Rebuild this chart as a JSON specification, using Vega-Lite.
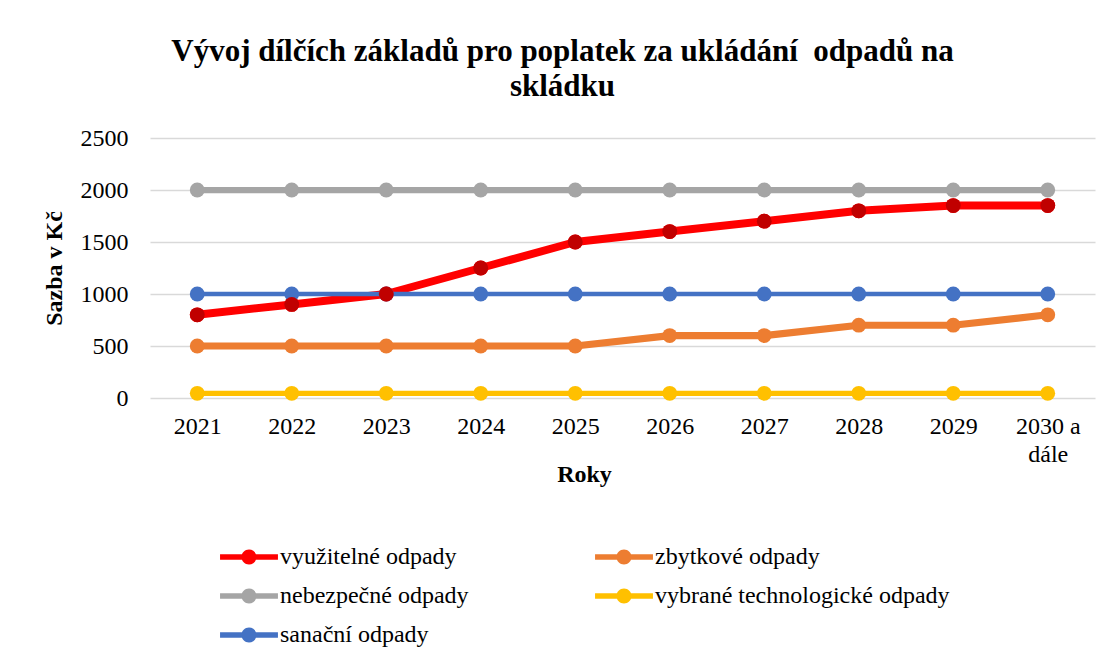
{
  "$schema": "https://vega.github.io/schema/vega-lite/v6.json",
  "width": 945,
  "height": 260,
  "autosize": "none",
  "padding": {"left": 150, "top": 138, "right": 19, "bottom": 273},
  "background": "white",
  "config": {
    "font": "Liberation Serif",
    "view": {"stroke": null}
  },
  "title": {
    "text": ["Vývoj dílčích základů pro poplatek za ukládání\u00a0 odpadů na", "skládku"],
    "font": "Liberation Serif",
    "fontSize": 31,
    "fontWeight": "bold",
    "color": "black",
    "anchor": "middle",
    "dx": -60,
    "offset": 23,
    "lineHeight": 35
  },
  "data": {
    "values": [
      {"rok": "2021", "serie": "využitelné odpady", "sazba": 800},
      {"rok": "2022", "serie": "využitelné odpady", "sazba": 900},
      {"rok": "2023", "serie": "využitelné odpady", "sazba": 1000},
      {"rok": "2024", "serie": "využitelné odpady", "sazba": 1250},
      {"rok": "2025", "serie": "využitelné odpady", "sazba": 1500},
      {"rok": "2026", "serie": "využitelné odpady", "sazba": 1600},
      {"rok": "2027", "serie": "využitelné odpady", "sazba": 1700},
      {"rok": "2028", "serie": "využitelné odpady", "sazba": 1800},
      {"rok": "2029", "serie": "využitelné odpady", "sazba": 1850},
      {"rok": "2030 a dále", "serie": "využitelné odpady", "sazba": 1850},
      {"rok": "2021", "serie": "zbytkové odpady", "sazba": 500},
      {"rok": "2022", "serie": "zbytkové odpady", "sazba": 500},
      {"rok": "2023", "serie": "zbytkové odpady", "sazba": 500},
      {"rok": "2024", "serie": "zbytkové odpady", "sazba": 500},
      {"rok": "2025", "serie": "zbytkové odpady", "sazba": 500},
      {"rok": "2026", "serie": "zbytkové odpady", "sazba": 600},
      {"rok": "2027", "serie": "zbytkové odpady", "sazba": 600},
      {"rok": "2028", "serie": "zbytkové odpady", "sazba": 700},
      {"rok": "2029", "serie": "zbytkové odpady", "sazba": 700},
      {"rok": "2030 a dále", "serie": "zbytkové odpady", "sazba": 800},
      {"rok": "2021", "serie": "nebezpečné odpady", "sazba": 2000},
      {"rok": "2022", "serie": "nebezpečné odpady", "sazba": 2000},
      {"rok": "2023", "serie": "nebezpečné odpady", "sazba": 2000},
      {"rok": "2024", "serie": "nebezpečné odpady", "sazba": 2000},
      {"rok": "2025", "serie": "nebezpečné odpady", "sazba": 2000},
      {"rok": "2026", "serie": "nebezpečné odpady", "sazba": 2000},
      {"rok": "2027", "serie": "nebezpečné odpady", "sazba": 2000},
      {"rok": "2028", "serie": "nebezpečné odpady", "sazba": 2000},
      {"rok": "2029", "serie": "nebezpečné odpady", "sazba": 2000},
      {"rok": "2030 a dále", "serie": "nebezpečné odpady", "sazba": 2000},
      {"rok": "2021", "serie": "vybrané technologické odpady", "sazba": 45},
      {"rok": "2022", "serie": "vybrané technologické odpady", "sazba": 45},
      {"rok": "2023", "serie": "vybrané technologické odpady", "sazba": 45},
      {"rok": "2024", "serie": "vybrané technologické odpady", "sazba": 45},
      {"rok": "2025", "serie": "vybrané technologické odpady", "sazba": 45},
      {"rok": "2026", "serie": "vybrané technologické odpady", "sazba": 45},
      {"rok": "2027", "serie": "vybrané technologické odpady", "sazba": 45},
      {"rok": "2028", "serie": "vybrané technologické odpady", "sazba": 45},
      {"rok": "2029", "serie": "vybrané technologické odpady", "sazba": 45},
      {"rok": "2030 a dále", "serie": "vybrané technologické odpady", "sazba": 45},
      {"rok": "2021", "serie": "sanační odpady", "sazba": 1000},
      {"rok": "2022", "serie": "sanační odpady", "sazba": 1000},
      {"rok": "2023", "serie": "sanační odpady", "sazba": 1000},
      {"rok": "2024", "serie": "sanační odpady", "sazba": 1000},
      {"rok": "2025", "serie": "sanační odpady", "sazba": 1000},
      {"rok": "2026", "serie": "sanační odpady", "sazba": 1000},
      {"rok": "2027", "serie": "sanační odpady", "sazba": 1000},
      {"rok": "2028", "serie": "sanační odpady", "sazba": 1000},
      {"rok": "2029", "serie": "sanační odpady", "sazba": 1000},
      {"rok": "2030 a dále", "serie": "sanační odpady", "sazba": 1000}
    ]
  },
  "encoding": {
    "x": {
      "field": "rok",
      "type": "ordinal",
      "sort": null,
      "scale": {"type": "point", "padding": 0.5},
      "axis": {
        "title": "Roky",
        "titleFont": "Liberation Serif",
        "titleFontSize": 24,
        "titleFontWeight": "bold",
        "titleColor": "black",
        "titleX": 434,
        "titleY": 76,
        "titleBaseline": "middle",
        "labelFont": "Liberation Serif",
        "labelFontSize": 24,
        "labelColor": "black",
        "labelAngle": 0,
        "labelPadding": 16,
        "labelLineHeight": 28,
        "labelExpr": "datum.label == '2030 a dále' ? ['2030 a', 'dále'] : datum.label",
        "domain": false,
        "ticks": false,
        "grid": false
      }
    },
    "y": {
      "field": "sazba",
      "type": "quantitative",
      "scale": {"domain": [0, 2500]},
      "axis": {
        "title": "Sazba v Kč",
        "titleFont": "Liberation Serif",
        "titleFontSize": 24,
        "titleFontWeight": "bold",
        "titleColor": "black",
        "titlePadding": 14,
        "labelFont": "Liberation Serif",
        "labelFontSize": 24,
        "labelColor": "black",
        "labelPadding": 22,
        "values": [0, 500, 1000, 1500, 2000, 2500],
        "format": "d",
        "domain": false,
        "ticks": false,
        "grid": true,
        "gridColor": "#d9d9d9",
        "gridWidth": 1.5
      }
    }
  },
  "layer": [
    {
      "mark": {"type": "line", "strokeCap": "round", "strokeJoin": "round"},
      "encoding": {
        "color": {
          "field": "serie",
          "type": "nominal",
          "sort": null,
          "scale": {
            "domain": ["využitelné odpady", "zbytkové odpady", "nebezpečné odpady", "vybrané technologické odpady", "sanační odpady"],
            "range": ["#FF0000", "#ED7D31", "#A5A5A5", "#FFC000", "#4472C4"]
          },
          "legend": null
        },
        "strokeWidth": {
          "field": "serie",
          "type": "nominal",
          "scale": {
            "domain": ["využitelné odpady", "zbytkové odpady", "nebezpečné odpady", "vybrané technologické odpady", "sanační odpady"],
            "range": [8, 4.5, 4.5, 4.5, 4.5]
          },
          "legend": null
        }
      }
    },
    {
      "mark": {"type": "point", "filled": true, "opacity": 1, "size": 220},
      "encoding": {
        "color": {
          "field": "serie",
          "type": "nominal",
          "sort": null,
          "scale": {
            "domain": ["využitelné odpady", "zbytkové odpady", "nebezpečné odpady", "vybrané technologické odpady", "sanační odpady"],
            "range": ["#FF0000", "#ED7D31", "#A5A5A5", "#FFC000", "#4472C4"]
          },
          "legend": {
            "title": null,
            "orient": "none",
            "direction": "horizontal",
            "legendX": 84,
            "legendY": 404,
            "columns": 2,
            "columnPadding": 126,
            "rowPadding": 12,
            "symbolType": "M-1.93,-0.18H-0.45V0.18H-1.93Z M0.45,-0.18H1.93V0.18H0.45Z M0.5,0A0.5,0.5,0,1,1,-0.5,0A0.5,0.5,0,1,1,0.5,0Z",
            "symbolSize": 900,
            "symbolStrokeWidth": 0,
            "symbolOpacity": 1,
            "labelFont": "Liberation Serif",
            "labelFontSize": 24,
            "labelColor": "black",
            "labelOffset": 16,
            "labelLimit": 500
          }
        }
      }
    },
    {
      "transform": [{"filter": "datum.serie == 'využitelné odpady'"}],
      "mark": {"type": "point", "filled": true, "opacity": 1, "size": 220, "color": "#C00000"},
      "encoding": {}
    }
  ],
  "resolve": {"scale": {"color": "independent"}}
}
